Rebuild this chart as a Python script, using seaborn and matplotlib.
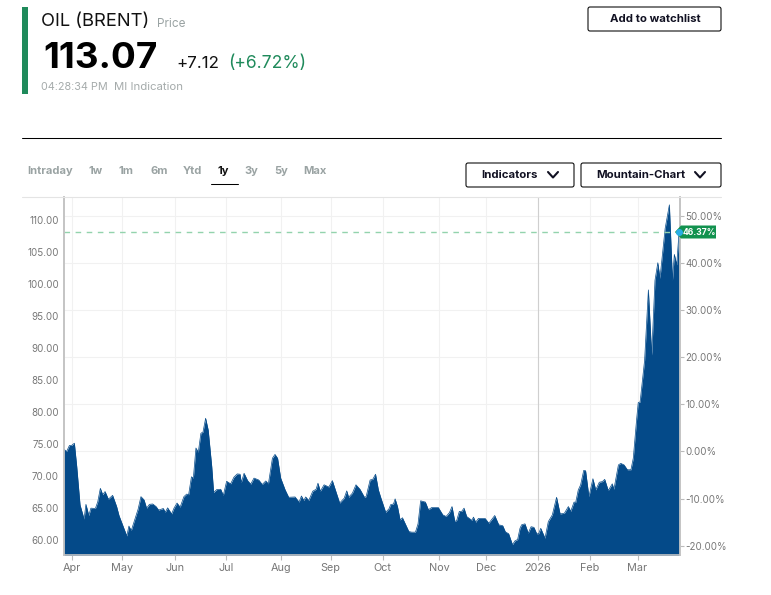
import matplotlib
matplotlib.use('Agg')
import matplotlib.pyplot as plt
import seaborn as sns
import pandas as pd
from matplotlib.patches import FancyBboxPatch, Polygon, Rectangle

W, H = 771, 595
NAVY = '#044a89'
GREEN = '#1f8a5b'

sessions = [0, 1.1, 2.3, 3.2, 4.4, 5.4, 6.8, 8.5, 9.3, 10.5, 11.4, 13.3, 14.3, 15.4, 16.4, 17.4, 18.8, 20.6, 22.3, 23.3,
            26.6, 27.5, 28.5, 29.7, 31.4, 32.6, 33.9, 35, 36.2, 37.6, 39, 40.1, 42.1, 42.9, 43.9, 45.6, 46.6, 47.9, 49.2, 50.8,
            52, 52.8, 54, 54.8, 55.9, 56.9, 58, 58.9, 60, 61.1, 62.6, 63.4, 64.7, 66.4, 67.5, 68.9, 70.6, 72, 73.4, 74.6,
            75.1, 76.3, 77.8, 79.1, 80.5, 82.5, 84, 85.5, 86.6, 88.3, 89.4, 90.5, 91.8, 93.7, 95.2, 97.9, 99.6, 100.6, 101.6, 102.4,
            103.7, 105.4, 106.8, 107.6, 108.6, 110.2, 112.2, 113.7, 115.4, 116.8, 118.7, 119.8, 120.6, 122.2, 123.7, 125.4, 127.3, 128, 129.7, 130.8,
            132, 133.2, 134.3, 136.3, 137.7, 138.4, 139.6, 140.3, 141.3, 142.4, 143.4, 146.1, 147.3, 148.9, 150, 151.1, 153.1, 154.4, 155.8, 158.6,
            160.5, 161.9, 163.3, 164.4, 165.6, 166.4, 167.5, 168.5, 169.5, 170.6, 172.8, 173.5, 174.4, 175.6, 178.4, 180, 182.5, 184.2, 185.9, 187,
            188.4, 190, 191.1, 192.2, 193.2, 193.9, 195.3, 196.7, 197.9, 199.1, 200.3, 201.1, 202, 203.8, 205.2, 206.9, 208.7, 210.2, 212, 213.7,
            214.7, 216.1, 216.8, 217.9, 218.9, 220.2, 221, 222.4, 224.1, 225.3, 226.8, 228.1, 229.1, 230.6, 232.3, 233, 234.9, 235.9, 237.3, 238.7,
            240.2, 241.2, 242.6, 243.3, 244.1, 246, 247.6, 249, 250.4, 251.6, 252.5, 254.7, 256.5, 257.8, 258.6, 259.6, 260.6]
prices = [74.1, 73.75, 74.7, 74.7, 75.05, 71.4, 65.4, 63.2, 65.5, 63.75, 64.9, 64.85, 65.9, 68.0, 67.0, 67.5, 66.3, 66.9, 65.15, 63.75,
          60.55, 62.1, 61.4, 62.8, 64.75, 66.7, 66.2, 64.9, 65.5, 65.55, 65.15, 64.6, 64.85, 64.25, 64.95, 64.0, 64.9, 65.7, 65.05, 66.7,
          67.1, 67.0, 69.8, 69.6, 74.3, 73.65, 76.6, 76.8, 78.95, 77.1, 71.4, 67.35, 67.8, 67.85, 66.9, 69.1, 68.7, 69.75, 70.25, 70.2,
          68.9, 70.35, 69.2, 68.65, 69.6, 69.3, 68.6, 69.15, 68.7, 72.7, 73.3, 72.7, 69.6, 67.75, 66.6, 66.65, 65.85, 66.8, 66.1, 66.65,
          66.1, 67.55, 67.85, 68.8, 67.55, 68.55, 68.2, 69.2, 67.25, 65.7, 66.45, 67.6, 66.6, 67.25, 68.55, 67.85, 66.6, 66.7, 69.3, 69.4,
          70.2, 67.75, 66.45, 64.25, 64.8, 65.45, 65.55, 66.35, 65.15, 63.05, 63.4, 61.25, 61.15, 61.15, 62.45, 66.05, 65.85, 64.65, 65.0, 65.0,
          63.85, 63.6, 64.2, 65.15, 62.8, 63.0, 64.4, 64.4, 64.9, 63.6, 63.0, 63.5, 62.7, 63.3, 63.3, 62.55, 63.75, 62.3, 62.15, 61.2,
          60.9, 59.2, 59.8, 60.0, 61.75, 62.3, 62.45, 61.0, 62.0, 61.9, 60.9, 60.9, 61.75, 60.2, 62.8, 63.85, 66.6, 64.0, 64.1, 65.15,
          64.4, 65.85, 65.8, 67.75, 68.55, 70.8, 70.75, 66.7, 69.5, 67.75, 68.95, 69.05, 69.4, 67.65, 68.7, 67.85, 71.65, 71.9, 71.65, 70.9,
          70.9, 72.7, 78.7, 81.4, 81.5, 88.0, 99.0, 88.8, 100.5, 103.25, 100.8, 108.6, 112.3, 100.5, 104.55, 102.9, 108.1]

month_labels = ['Apr', 'May', 'Jun', 'Jul', 'Aug', 'Sep', 'Oct', 'Nov', 'Dec', '2026', 'Feb', 'Mar']
month_ticks = [3.4, 24.6, 47, 68.6, 91.9, 113, 135, 158.9, 179, 200.8, 222.9, 243]
price_ticks = [60, 65, 70, 75, 80, 85, 90, 95, 100, 105, 110]
pct_ticks = [-20, -10, 0, 10, 20, 30, 40, 50]
ref_price = 108.0
ranges = ['Intraday', '1w', '1m', '6m', 'Ytd', '1y', '3y', '5y', 'Max']
range_x = [50.5, 96, 126, 159, 192.5, 223, 251, 281, 314.5]

sns.set_theme(style='white')
plt.rcParams['font.family'] = ['Inter', 'DejaVu Sans']

fig = plt.figure(figsize=(W / 100, H / 100), dpi=100)

# percent axis sits underneath and carries the grid, price axis goes on top
ax_pct = fig.add_axes([64 / W, 1 - 555 / H, 616 / W, 358 / H])
ax = ax_pct.twinx()
ax_pct.set_xlim(0, 261)
ax_pct.set_ylim(-21.99, 54.07)
ax.patch.set_visible(False)

df = pd.DataFrame({'session': sessions, 'price': prices})
sns.lineplot(x='session', y='price', data=df, ax=ax, color=NAVY, linewidth=0.5)
ax.fill_between(df['session'], df['price'], 50, color=NAVY, linewidth=0)
ax.axhline(ref_price, color='#93d3ad', linewidth=1, dashes=(4, 4))
ax.set_xlim(0, 261)
ax.set_ylim(57.58, 113.52)
ax.set_xlabel('')
ax.set_ylabel('')

ax_pct.yaxis.tick_right()
ax_pct.set_yticks(pct_ticks)
ax_pct.set_yticklabels(['%.2f%%' % p for p in pct_ticks])
ax_pct.set_xticks(month_ticks)
ax_pct.set_xticklabels(month_labels)
ax_pct.grid(True, color='#f1f1f1', linewidth=0.75)
ax_pct.axvline(month_ticks[9], color='#cfcfcf', linewidth=0.8)
ax_pct.tick_params(axis='y', length=2.8, width=0.8, color='#bbbbbb', pad=1, labelsize=7, labelcolor='#777777', right=True)
ax_pct.tick_params(axis='x', length=3.5, width=0.8, color='#bbbbbb', pad=2, labelsize=7.8, labelcolor='#777777', bottom=True)

ax.yaxis.tick_left()
ax.set_yticks(price_ticks)
ax.set_yticklabels(['%.2f' % p for p in price_ticks])
ax.tick_params(axis='y', length=0, pad=3.6, labelsize=7, labelcolor='#777777')

for a in (ax, ax_pct):
    a.spines['top'].set_visible(False)
    for side in ['left', 'right', 'bottom']:
        a.spines[side].set_color('#c4c4c4')
        a.spines[side].set_linewidth(1.2)

# page furniture around the chart, drawn in pixel coordinates
over = fig.add_axes([0, 0, 1, 1], zorder=5)
over.set_xlim(0, W)
over.set_ylim(H, 0)
over.axis('off')

over.add_patch(Rectangle((22, 7), 6, 87, color=GREEN, linewidth=0))
over.plot([22, 721], [137.8, 137.8], color='black', linewidth=0.75)
over.plot([22, 721], [196.5, 196.5], color='#e4e4e4', linewidth=0.8)

over.text(41, 22, 'OIL (BRENT)', fontsize=13.2, color='#111111', va='center')
over.text(157, 24, 'Price', fontsize=8.5, color='#9aa3a3', va='center')
over.text(43, 58, '113.07', fontsize=26.5, fontweight='bold', color='black', va='center')
over.text(176, 64, '+7.12', fontsize=12.2, color='#111111', va='center')
over.text(228, 64, '(+6.72%)', fontsize=12.6, color=GREEN, va='center')
over.text(41, 87, '04:28:34 PM', fontsize=7.8, color='#a5abab', va='center')
over.text(114, 87, 'MI Indication', fontsize=8.2, color='#a5abab', va='center')

for label, x in zip(ranges, range_x):
    over.text(x, 171.5, label, fontsize=8, fontweight='bold', va='center', ha='center',
              color='#111111' if label == '1y' else '#9aa3a3')
over.plot([211, 238], [184, 184], color='black', linewidth=0.75)


def button(x0, x1, y0, y1, label, text_x, chevron_x=None):
    over.add_patch(FancyBboxPatch((x0 + 2, y0 + 2), x1 - x0 - 4, y1 - y0 - 4, boxstyle='round,pad=2,rounding_size=2',
                                  facecolor='white', edgecolor='black', linewidth=0.75))
    yc = (y0 + y1) / 2
    over.text(text_x, yc + 0.5, label, fontsize=8.2, fontweight='bold', color='#111122', va='center', ha='center')
    if chevron_x:
        over.plot([chevron_x - 5, chevron_x, chevron_x + 5], [yc - 3, yc + 2.5, yc - 3], color='#111122', linewidth=1.5)


button(588, 721, 7, 31, 'Add to watchlist', 655)
button(466, 574, 163, 187, 'Indicators', 509, 553)
button(581, 721, 163, 187, 'Mountain-Chart', 641, 700)

# badge on the right axis for the reference level
over.add_patch(Polygon([(675, 232), (681, 225.5), (716, 225.5), (716, 238.5), (681, 238.5)], color='#12924f', linewidth=0))
over.plot([679], [232], 'o', color='#29aee6', markersize=4)
over.text(683, 232.2, '46.37%', fontsize=6.2, fontweight='bold', color='white', va='center')

fig.savefig('out.png', dpi=100)
